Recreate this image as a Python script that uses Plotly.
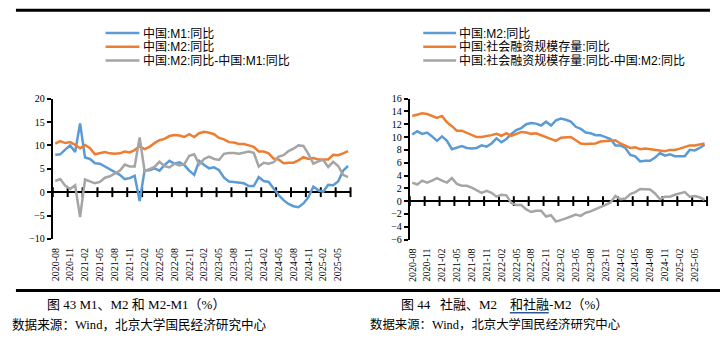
import plotly.graph_objects as go

# ---------------- data ----------------
months = [
    "2020-08", "2020-09", "2020-10", "2020-11", "2020-12",
    "2021-01", "2021-02", "2021-03", "2021-04", "2021-05", "2021-06",
    "2021-07", "2021-08", "2021-09", "2021-10", "2021-11", "2021-12",
    "2022-01", "2022-02", "2022-03", "2022-04", "2022-05", "2022-06",
    "2022-07", "2022-08", "2022-09", "2022-10", "2022-11", "2022-12",
    "2023-01", "2023-02", "2023-03", "2023-04", "2023-05", "2023-06",
    "2023-07", "2023-08", "2023-09", "2023-10", "2023-11", "2023-12",
    "2024-01", "2024-02", "2024-03", "2024-04", "2024-05", "2024-06",
    "2024-07", "2024-08", "2024-09", "2024-10", "2024-11", "2024-12",
    "2025-01", "2025-02", "2025-03", "2025-04", "2025-05", "2025-06",
    "2025-07",
]
tick_labels = months[::3]

m1 = [
    8.0, 8.1, 9.1, 10.0, 8.6,
    14.7, 7.4, 7.1, 6.2, 6.1, 5.5, 4.9, 4.2, 3.7, 2.8, 3.0, 3.5,
    -1.9, 4.7, 4.7, 5.1, 4.6, 5.8, 6.7, 6.1, 6.4, 5.8, 4.6, 3.7,
    6.7, 5.8, 5.1, 5.3, 4.7, 3.1, 2.3, 2.2, 2.1, 1.9, 1.3, 1.3,
    3.2, 2.4, 2.2, 0.8, -0.6, -1.7, -2.5, -3.0, -3.2, -2.4, -1.1, 1.2,
    0.4, 0.1, 1.6, 1.5, 2.3, 4.6, 5.6,
]
m2 = [
    10.4, 10.9, 10.5, 10.7, 10.1,
    9.4, 10.1, 9.4, 8.1, 8.3, 8.6, 8.3, 8.2, 8.3, 8.7, 8.5, 9.0,
    9.8, 9.2, 9.7, 10.5, 11.1, 11.4, 12.0, 12.2, 12.1, 11.8, 12.4, 11.8,
    12.6, 12.9, 12.7, 12.4, 11.6, 11.3, 10.7, 10.6, 10.3, 10.3, 10.0, 9.7,
    8.7, 8.7, 8.3, 7.2, 7.0, 6.2, 6.3, 6.3, 6.8, 7.5, 7.1, 7.3,
    7.0, 7.0, 7.0, 8.0, 7.9, 8.3, 8.8,
]
m2_minus_m1 = [
    2.4, 2.8, 1.4, 0.7, 1.5,
    -5.3, 2.7, 2.3, 1.9, 2.2, 3.1, 3.4, 4.0, 4.6, 5.9, 5.5, 5.5,
    11.7, 4.5, 5.0, 5.4, 6.5, 5.6, 5.3, 6.1, 5.7, 6.0, 7.8, 8.1,
    5.9, 7.1, 7.6, 7.1, 6.9, 8.2, 8.4, 8.4, 8.2, 8.4, 8.7, 8.4,
    5.5, 6.3, 6.1, 6.4, 7.6, 7.9, 8.8, 9.3, 10.0, 9.9, 8.2, 6.1,
    6.6, 6.9, 5.4, 6.5, 5.6, 3.7, 3.2,
]
tsf = [
    13.3, 13.5, 13.7, 13.6, 13.3,
    13.0, 13.3, 12.3, 11.7, 11.0, 11.0, 10.7, 10.3, 10.0, 10.0, 10.1, 10.3,
    10.5, 10.2, 10.6, 10.2, 10.5, 10.8, 10.7, 10.5, 10.6, 10.3, 10.0, 9.6,
    9.4, 9.9, 10.0, 10.0, 9.5, 9.0, 8.9, 9.0, 9.0, 9.3, 9.4, 9.5,
    9.5, 9.0, 8.7, 8.3, 8.4, 8.1, 8.2, 8.1, 8.0, 7.8, 7.8, 8.0,
    8.0, 8.2, 8.4, 8.7, 8.7, 8.9, 9.0,
]
tsf_minus_m2 = [
    2.9, 2.6, 3.2, 2.9, 3.2,
    3.6, 3.2, 2.9, 3.6, 2.7, 2.4, 2.4, 2.1, 1.7, 1.3, 1.6, 1.3,
    0.7, 1.0, 0.9, -0.3, -0.6, -0.6, -1.3, -1.7, -1.5, -1.5, -2.4, -2.2,
    -3.2, -3.0, -2.7, -2.4, -2.1, -2.3, -1.8, -1.6, -1.3, -1.0, -0.6, -0.2,
    0.8, 0.3, 0.4, 1.1, 1.4, 1.9, 1.9, 1.8, 1.2, 0.3, 0.7, 0.7,
    1.0, 1.2, 1.4, 0.7, 0.8, 0.6, 0.2,
]

left_names = ["中国:M1:同比", "中国:M2:同比", "中国:M2:同比-中国:M1:同比"]
right_names = ["中国:M2:同比", "中国:社会融资规模存量:同比", "中国:社会融资规模存量:同比-中国:M2:同比"]

# ---------------- style ----------------
BLUE, ORANGE, GRAY = "#5B9BD5", "#ED7D31", "#A5A5A5"
COLORS = [BLUE, ORANGE, GRAY]
W, H = 720, 345
SERIF = "Liberation Serif, Times New Roman, Noto Sans CJK SC, serif"
LEGF = "Liberation Sans, Arial, Noto Sans CJK SC, sans-serif"
CAP = "Liberation Serif, Noto Sans CJK SC, serif"
NB = "\u00a0"


def px(v):
    return v / W


def py(v):
    return 1 - v / H


xs = list(range(len(months)))
bounds = [i - 0.5 for i in range(0, len(months) + 1, 3)]

fig = go.Figure()

panels = [
    ("x", "y", [m1, m2, m2_minus_m1], left_names),
    ("x2", "y2", [m2, tsf, tsf_minus_m2], right_names),
]
for xa, ya, series, names in panels:
    fig.add_trace(go.Scatter(
        x=bounds, y=[0] * len(bounds), xaxis=xa, yaxis=ya, mode="markers",
        marker=dict(symbol="line-ns", size=7, line=dict(width=2, color="black")),
        cliponaxis=False, hoverinfo="skip", showlegend=False))
    for s, name, c in zip(series, names, COLORS):
        fig.add_trace(go.Scatter(
            x=xs, y=s, xaxis=xa, yaxis=ya, mode="lines", name=name,
            line=dict(color=c, width=2.5), showlegend=False))

xcommon = dict(range=[-0.5, len(months) - 0.5], tickmode="array",
               tickvals=xs[::3], ticktext=tick_labels, tickangle=-90,
               showline=False, ticks="", showgrid=False, zeroline=False,
               ticklabelstandoff=6,
               tickfont=dict(family=SERIF, size=10, color="black"))
ycommon = dict(showline=True, linecolor="black", linewidth=2, ticks="outside",
               ticklen=4, tickwidth=2, tickcolor="black", showgrid=False,
               zeroline=True, zerolinecolor="black", zerolinewidth=2,
               tickfont=dict(family=SERIF, size=10, color="black"))

fig.update_layout(
    width=W, height=H, margin=dict(l=0, r=0, t=0, b=0),
    paper_bgcolor="white", plot_bgcolor="white", showlegend=False,
    xaxis=dict(domain=[px(50), px(349)], anchor="y", **xcommon),
    yaxis=dict(domain=[py(241.7), py(96.7)], anchor="x", range=[-10, 20],
               tickmode="linear", tick0=-10, dtick=5, **ycommon),
    xaxis2=dict(domain=[px(408.5), px(707)], anchor="y2", **xcommon),
    yaxis2=dict(domain=[py(242.3), py(96.7)], anchor="x2", range=[-6, 16],
                tickmode="linear", tick0=-6, dtick=2, **ycommon),
)

shapes = []
annotations = []

# horizontal rules
shapes.append(dict(type="line", xref="paper", yref="paper", x0=px(13), x1=px(710),
                   y0=py(5.3), y1=py(5.3), line=dict(color="black", width=3)))
shapes.append(dict(type="line", xref="paper", yref="paper", x0=px(13), x1=px(720),
                   y0=py(295), y1=py(295), line=dict(color="black", width=3)))

# manual legends
leg_y = [29, 43.2, 57.4]
for (lx0, lx1, tx), names in [((103, 137, 140), left_names), ((422, 455, 457), right_names)]:
    for yy, name, c in zip(leg_y, names, COLORS):
        shapes.append(dict(type="line", xref="paper", yref="paper",
                           x0=px(lx0), x1=px(lx1), y0=py(yy), y1=py(yy),
                           line=dict(color=c, width=2.5)))
        annotations.append(dict(x=px(tx), y=py(yy), xref="paper", yref="paper",
                                text=name, showarrow=False, align="left",
                                xanchor="left", yanchor="middle", borderpad=0,
                                font=dict(family=LEGF, size=12, color="black")))

# captions and sources
annotations.append(dict(x=px(42), y=py(309), xref="paper", yref="paper",
                        text="图 43 M1、M2 和 M2-M1（%）", showarrow=False,
                        xanchor="left", yanchor="middle",
                        font=dict(family=CAP, size=13, color="black")))
annotations.append(dict(x=px(398), y=py(309), xref="paper", yref="paper",
                        text="图 44" + NB * 3 + "社融、M2" + NB * 4 + "和社融-M2（%）",
                        showarrow=False, xanchor="left", yanchor="middle",
                        font=dict(family=CAP, size=13, color="black")))
annotations.append(dict(x=px(7), y=py(330), xref="paper", yref="paper",
                        text="数据来源：Wind，北京大学国民经济研究中心", showarrow=False,
                        xanchor="left", yanchor="middle",
                        font=dict(family=CAP, size=12.6, color="black")))
annotations.append(dict(x=px(367), y=py(330), xref="paper", yref="paper",
                        text="数据来源：Wind，北京大学国民经济研究中心", showarrow=False,
                        xanchor="left", yanchor="middle",
                        font=dict(family=CAP, size=12.4, color="black")))
shapes.append(dict(type="line", xref="paper", yref="paper", x0=px(509), x1=px(548),
                   y0=py(318), y1=py(318), line=dict(color="#2F5597", width=1.5)))

fig.update_layout(shapes=shapes, annotations=annotations)
fig.write_html("out.html")
